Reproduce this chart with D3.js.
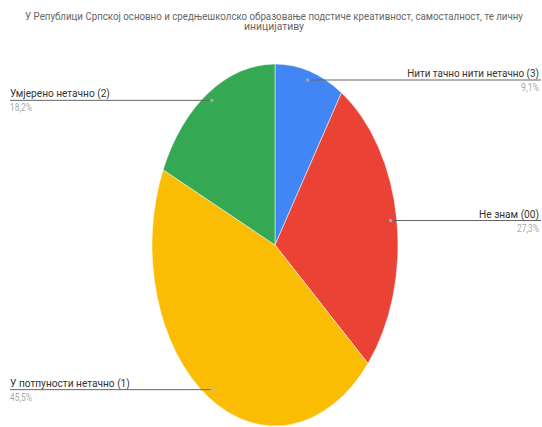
<!DOCTYPE html>
<html><head><meta charset="utf-8">
<script src="https://cdn.jsdelivr.net/npm/d3@7"></script>
<style>body{margin:0;background:#fff}svg{display:block}</style>
</head><body>
<svg id="c" width="542" height="427"></svg>
<script>
const titleLines = ["У Републици Српској основно и средњешколско образовање подстиче креативност, самосталност, те личну", "иницијативу"];
const categories = ["Нити тачно нити нетачно (3)", "Не знам (00)", "У потпуности нетачно (1)", "Умјерено нетачно (2)"];
const values = [1, 3, 5, 2];
const percentLabels = ["9,1%", "27,3%", "45,5%", "18,2%"];
const colors = ["#4285F4", "#EA4335", "#FBBC04", "#34A853"];

const svg = d3.select("#c");
const cx = 275, cy = 245, rx = 123, ry = 181;
const sy = ry / rx;
const font = "Roboto, Arial, sans-serif";

// place text so its width fits target using a horizontal scale
function fitText(sel, x, y, anchor, width) {
  sel.attr("x", 0).attr("y", 0).attr("text-anchor", anchor);
  const w = sel.node().getComputedTextLength();
  const k = width ? width / w : 1;
  sel.attr("transform", `translate(${x},${y}) scale(${k},1)`);
}

titleLines.forEach((t,i)=>{
  const s = svg.append("text").attr("font-family",font).attr("font-size",10)
    .attr("fill","#666").text(t);
  fitText(s, 274, 20 + i*10, "middle", i===0 ? 498 : 60);
});

const pie = d3.pie().sort(null).value(d=>d)(values);
const arc = d3.arc().innerRadius(0).outerRadius(rx);
const dotArc = d3.arc().innerRadius(rx*0.95).outerRadius(rx*0.95);

const g = svg.append("g").attr("transform", `translate(${cx},${cy}) scale(1,${sy})`);
g.selectAll("path").data(pie).join("path")
  .attr("d", arc)
  .attr("fill", (d,i)=>colors[i])
  .attr("stroke","#fff").attr("stroke-width",0.5)
  .attr("vector-effect","non-scaling-stroke");

const labelWidths = [132, 60, 120, 100];
const pctWidths = [18, 22, 22, 22];
pie.forEach((d,i)=>{
  const c = dotArc.centroid(d);
  const px = cx + c[0], py = cy + c[1]*sy;
  const right = px > cx;
  const x2 = right ? 539 : 10;
  svg.append("line").attr("x1",px).attr("y1",py).attr("x2",right ? 541 : 10).attr("y2",py)
    .attr("stroke","#666").attr("stroke-width",1);
  svg.append("circle").attr("cx",px).attr("cy",py).attr("r",1.8)
    .attr("fill","#bbb").attr("opacity",0.7);
  const t1 = svg.append("text").attr("font-family",font).attr("font-size",11.5)
    .attr("fill","#333").text(categories[i]);
  fitText(t1, x2, py-3, right ? "end" : "start", labelWidths[i]);
  const t2 = svg.append("text").attr("font-family",font).attr("font-size",10.5)
    .attr("fill","#aaa").text(percentLabels[i]);
  fitText(t2, x2, py+11, right ? "end" : "start", pctWidths[i]);
});
</script>
</body></html>
